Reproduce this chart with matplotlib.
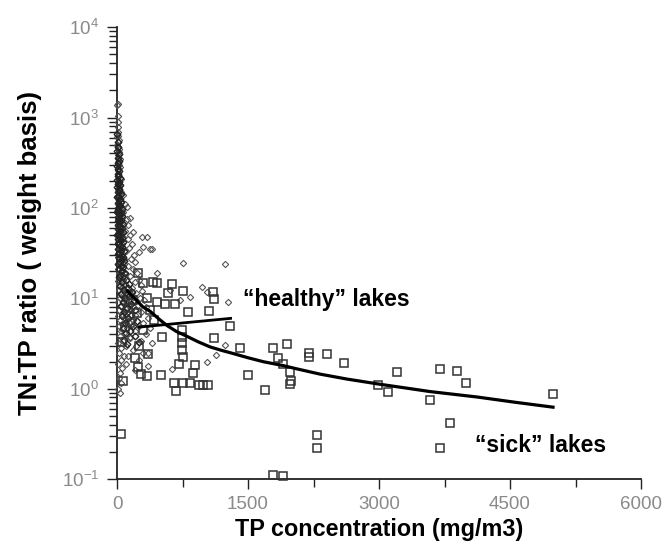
#
# TN:TP ratio vs TP concentration, healthy and sick lakes
#
import matplotlib
matplotlib.use('Agg')
import matplotlib.pyplot as plt
from matplotlib.ticker import MultipleLocator, FixedLocator, FixedFormatter, LogLocator

plt.rcParams['font.family'] = ['Liberation Sans', 'DejaVu Sans']
plt.rcParams['mathtext.fontset'] = 'custom'
plt.rcParams['mathtext.rm'] = 'Liberation Sans'

# small lakes (diamonds), most of them near TP = 0
dia_x = [8, 12, 6, 15, 10, 20, 5, 18, 25, 12, 30, 8, 22, 35, 15, 10, 28, 40, 18, 6,
         32, 25, 12, 45, 20, 38, 8, 30, 50, 15, 26, 42, 10, 35, 55, 20, 48, 6, 30, 60,
         16, 40, 25, 52, 12, 34, 65, 22, 45, 8, 58, 30, 70, 18, 42, 26, 62, 10, 36, 75,
         50, 20, 80, 32, 66, 14, 44, 85, 25, 55, 90, 38, 70, 12, 48, 95, 28, 60, 100, 20,
         78, 40, 110, 52, 30, 88, 15, 65, 120, 42, 100, 25, 75, 130, 55, 10, 90, 35, 140, 60,
         20, 110, 45, 80, 30, 150, 65, 15, 100, 50, 25, 80, 40, 10, 60, 30, 20, 45, 8, 35,
         90, 70, 110, 130, 95, 150, 120, 170, 140, 100, 190, 160, 210, 130, 180, 230, 150, 250, 200, 270,
         170, 290, 220, 140, 260, 310, 190, 240, 330, 160, 280, 210, 350, 180, 300, 250, 380, 200, 330, 150,
         270, 400, 220, 180, 300, 130, 250, 100, 350, 200,
         5, 6, 4, 7, 69, 115, 149, 183, 286, 344, 298, 378, 252, 401, 756, 1237, 458, 973, 1031, 1271,
         721, 836, 1031, 1134, 1237, 607, 630, 355]
dia_y = [1400, 1050, 900, 700, 620, 560, 500, 450, 420, 380, 350, 320, 300, 280, 260, 240, 225, 210, 200, 190,
         180, 170, 160, 150, 145, 138, 130, 125, 118, 112, 106, 100, 96, 92, 88, 84, 80, 76, 72, 68,
         65, 62, 59, 56, 53, 50, 48, 46, 44, 42, 40, 38, 36, 35, 33, 31, 30, 29, 28, 27,
         26, 25, 24, 23, 22, 21, 20, 19, 18.5, 18, 17, 16.5, 16, 15.5, 15, 14.5, 14, 13.5, 13, 12.5,
         12, 11.5, 11, 10.5, 10, 9.6, 9.2, 8.8, 8.5, 8.2, 7.8, 7.5, 7.2, 7, 6.7, 6.4, 6.1, 5.8, 5.5, 5.2,
         5, 4.7, 4.4, 4.1, 3.8, 3.6, 3.4, 3.2, 3, 2.8, 2.5, 2.3, 2.1, 1.9, 1.7, 1.5, 1.3, 1.15, 1.0, 0.9,
         110, 90, 75, 65, 55, 50, 45, 40, 36, 33, 30, 27, 25, 23, 21, 19, 17.5, 16, 15, 14,
         13, 12, 11.5, 10.8, 10, 9.5, 9, 8.5, 8, 7.5, 7, 6.5, 6, 5.7, 5.3, 5, 4.7, 4.4, 4, 3.7,
         3.4, 3.2, 3, 2.7, 2.5, 2.3, 2.1, 1.9, 1.8, 1.6,
         1370, 780, 610, 470, 139, 102, 77, 54, 47.5, 47.5, 36.8, 35, 32.4, 35, 24.5, 23.9, 19, 13.3, 11.7, 9.1,
         9.6, 10.3, 1.97, 2.35, 3.03, 12.3, 1.65, 2.48]

# more small lakes packed against the axis
col_x = [3, 9, 14, 4, 19, 7, 24, 11, 2, 16, 28, 6, 13, 33, 5, 21, 9, 37, 3, 17,
         26, 8, 42, 12, 4, 30, 19, 47, 7, 23, 35, 10, 52, 15, 5, 40, 27, 58, 11, 20,
         46, 6, 33, 63, 14, 24, 52, 9, 38, 68, 18, 4, 29, 57, 12, 44, 72, 22, 7, 34,
         62, 16, 48, 77, 26, 10, 40, 66, 19, 53, 82, 30, 13, 45, 70, 23, 58, 86, 35, 17,
         105, 60, 140, 35, 120, 85, 170, 50, 135, 95, 190, 70, 155, 40, 115, 210, 80, 160, 55, 125,
         230, 90, 180, 65, 145, 100, 200, 75, 250, 110]
col_y = [650, 540, 470, 430, 390, 360, 330, 310, 290, 270, 255, 240, 228, 215, 205, 195, 186, 178, 170, 163,
         156, 149, 143, 137, 132, 127, 122, 117, 113, 109, 105, 101, 97, 94, 91, 88, 85, 82, 79, 76,
         73, 71, 69, 67, 64, 62, 60, 58, 56, 54, 52, 50, 48.5, 47, 45.5, 44, 42.5, 41, 39.5, 38,
         37, 35.5, 34, 33, 32, 31, 30, 29, 28, 27, 26, 25, 24, 23, 22, 21, 20, 19, 18, 17,
         16, 15.2, 14.4, 13.7, 13, 12.3, 11.7, 11.1, 10.5, 10, 9.5, 9, 8.6, 8.2, 7.8, 7.4, 7, 6.6, 6.3, 6,
         5.6, 5.3, 5, 4.7, 4.4, 4.1, 3.8, 3.5, 3.3, 3.1]

# large lakes (squares)
sq_x = [1408, 1786, 1947, 2198, 2198, 2405, 2599, 1500, 1843, 1901, 1981, 1992, 1981, 1695, 2988, 3103,
        3206, 3584, 2290, 2290, 1786, 1901, 3698, 3893, 3996, 3813, 3698, 4992, 240, 275, 344, 504,
        69, 653, 676, 756, 836, 939, 985, 1042, 870, 893, 710, 756, 46, 630, 756, 584, 1099, 1111,
        813, 1053, 1294, 515, 1111, 252, 412, 458, 298, 240, 550, 664, 458, 744, 744, 744, 744, 344,
        378, 229, 149, 92, 298, 57, 180, 120, 420, 200, 360, 130]
sq_y = [2.81, 2.81, 3.11, 2.48, 2.24, 2.41, 1.92, 1.41, 2.18, 1.87, 1.53, 1.21, 1.12, 0.97, 1.10, 0.92,
        1.53, 0.75, 0.307, 0.22, 0.111, 0.108, 1.65, 1.57, 1.15, 0.416, 0.22, 0.87, 1.73, 1.45, 1.39, 1.41,
        1.21, 1.15, 0.94, 1.15, 1.15, 1.10, 1.10, 1.10, 1.49, 1.82, 1.87, 2.24, 0.315, 14.4, 12.0, 11.4, 11.7, 9.8,
        7.0, 7.2, 4.93, 3.72, 3.63, 2.96, 15.1, 14.7, 14.7, 19.0, 8.6, 8.6, 9.1, 4.45, 3.72, 3.19, 2.67, 10.0,
        7.4, 6.9, 5.3, 4.8, 4.45, 3.27, 9.5, 7.8, 5.8, 2.2, 2.4, 11]

# fitted curves
fit_x = [120, 200, 298, 378, 480, 572, 680, 800, 930, 1065, 1200, 1330, 1500, 1675, 1905, 2057, 2325,
         2630, 3012, 3393, 3584, 4122, 4550, 4992]
fit_y = [12, 10, 8.0, 7.2, 5.9, 5.0, 4.3, 3.8, 3.3, 2.9, 2.65, 2.45, 2.2, 1.99, 1.80, 1.66, 1.45,
         1.28, 1.12, 0.99, 0.93, 0.81, 0.71, 0.625]
healthy_x = [250, 1300]
healthy_y = [4.8, 6.0]

xticks = [0, 1500, 3000, 4500, 6000]

fig = plt.figure(figsize=(6.65, 5.42), dpi=100)
ax = fig.add_axes([0.176, 0.116, 0.788, 0.834])

ax.plot(dia_x, dia_y, linestyle='none', marker='D', markersize=3.2, markerfacecolor='none',
        markeredgecolor='#555555', markeredgewidth=0.8, clip_on=False, zorder=3)
ax.plot(col_x, col_y, linestyle='none', marker='D', markersize=3.4, markerfacecolor='none',
        markeredgecolor='#222222', markeredgewidth=1.0, clip_on=False, zorder=3)
ax.plot(sq_x, sq_y, linestyle='none', marker='s', markersize=6, markerfacecolor='none',
        markeredgecolor='#333333', markeredgewidth=1.1, clip_on=False, zorder=4)
ax.plot(fit_x, fit_y, color='black', lw=2.3, zorder=5)
ax.plot(healthy_x, healthy_y, color='black', lw=2.0, zorder=5)

ax.set_yscale('log')
ax.set_ylim(0.1, 1e4)
ax.set_xlim(0, 6000)

ax.xaxis.set_major_locator(FixedLocator(xticks))
ax.xaxis.set_major_formatter(FixedFormatter([str(t) for t in xticks]))
ax.xaxis.set_minor_locator(MultipleLocator(750))
ax.yaxis.set_major_locator(LogLocator(base=10, numticks=10))
ax.yaxis.set_minor_locator(LogLocator(base=10, subs=range(2, 10), numticks=10))

for s in ['top', 'right']:
    ax.spines[s].set_visible(False)
for s in ['left', 'bottom']:
    ax.spines[s].set_color('#222222')
    ax.spines[s].set_linewidth(1.3)

ax.tick_params(which='both', direction='out', color='#222222', labelcolor='#8a8a8a', labelsize=13.5)
ax.tick_params(which='major', length=7, width=1)
ax.tick_params(which='minor', length=6, width=1)
ax.tick_params(axis='y', pad=6)
ax.tick_params(axis='x', pad=5)

ax.set_xlabel('TP concentration (mg/m3)', fontsize=16.8, fontweight='bold', labelpad=4)
ax.set_ylabel('TN:TP ratio ( weight basis)', fontsize=18.5, fontweight='bold', labelpad=14)

ax.text(1443, 9.6, '\u201chealthy\u201d lakes', fontsize=16.5, fontweight='bold', ha='left', va='center')
ax.text(4099, 0.238, '\u201csick\u201d lakes', fontsize=16.5, fontweight='bold', ha='left', va='center')

plt.savefig('out.png', dpi=100)
